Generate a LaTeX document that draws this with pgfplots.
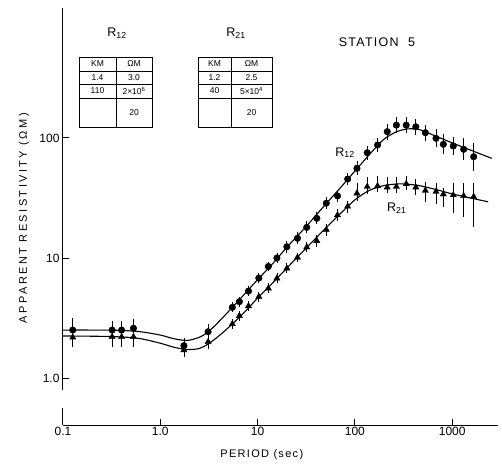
\documentclass[border=0pt]{standalone}
\usepackage{fontspec}
\setmainfont{Liberation Sans}
\usepackage{pgfplots}
\usepackage{pgfplotstable}
\pgfplotsset{compat=1.18}
\newcommand\fs[1]{\fontsize{#1}{#1}\selectfont}

% period (s), resistivity (ohm m), relative error up / down
\pgfplotstableread{
P rho ep em
0.126 2.51 0.26 0.21
0.32 2.51 0.20 0.17
0.40 2.51 0.20 0.17
0.53 2.60 0.20 0.17
1.75 1.86 0.15 0.13
3.1 2.43 0.15 0.13
5.5 3.88 0.10 0.09
6.5 4.33 0.10 0.09
8.06 5.3 0.10 0.09
10.3 6.8 0.10 0.09
12.9 8.5 0.10 0.09
15.8 10.0 0.10 0.09
20.0 12.4 0.12 0.11
25.7 14.6 0.12 0.11
32.0 18.0 0.12 0.11
40.6 21.4 0.12 0.11
50.8 28.6 0.12 0.11
66.3 32.9 0.12 0.11
84.3 45.5 0.12 0.11
105 55.9 0.14 0.125
134 75.4 0.14 0.125
171 87.4 0.14 0.125
215 112.9 0.167 0.143
267 128 0.167 0.143
337 128 0.167 0.143
423 124 0.167 0.143
530 110.7 0.167 0.143
682 99.4 0.19 0.16
811 88.6 0.21 0.17
1026 85.8 0.19 0.16
1312 80.5 0.235 0.19
1663 69.8 0.31 0.235
}\rtwelve

\pgfplotstableread{
P rho ep em
0.126 2.18 0.20 0.17
0.32 2.20 0.20 0.17
0.40 2.20 0.20 0.17
0.53 2.20 0.20 0.17
1.75 1.71 0.15 0.13
3.1 2.00 0.15 0.13
5.5 2.82 0.10 0.09
6.5 3.30 0.10 0.09
8.06 3.98 0.10 0.09
10.3 4.76 0.10 0.09
12.9 5.59 0.10 0.09
15.8 6.77 0.10 0.09
20.0 8.2 0.10 0.09
25.7 10.1 0.10 0.09
32.0 12.3 0.10 0.09
40.6 13.9 0.12 0.11
50.8 17.2 0.12 0.11
66.3 22.8 0.12 0.11
84.3 26.9 0.12 0.11
105 34.6 0.21 0.14
134 39.3 0.21 0.125
171 39.8 0.21 0.11
215 38.8 0.21 0.11
267 39.3 0.21 0.11
337 41.4 0.17 0.11
423 38.8 0.17 0.14
530 36.4 0.17 0.19
682 35.7 0.19 0.21
811 34.0 0.12 0.21
1026 33.5 0.26 0.29
1312 32.9 0.28 0.33
1663 32.4 0.31 0.44
}\rtwoone

\begin{document}
\begin{tikzpicture}
\useasboundingbox (-63pt,-39pt) rectangle (439pt,425pt);
\begin{axis}[
  scale only axis, width=435pt, height=417pt,
  xmode=log, ymode=log,
  xmin=0.1, xmax=2958, ymin=0.406, ymax=1211,
  axis lines=left,
  axis line style={line width=1pt,-},
  xtick={0.1,1,10,100,1000}, xticklabels={0.1,1.0,10,100,1000},
  ytick={1,10,100}, yticklabels={1.0,10,100},
  minor tick style={draw=none},
  tick align=inside, major tick length=6pt,
  major tick style={line width=1pt,black},
  ticklabel style={font=\fs{12}},
  xticklabel style={yshift=1pt},
  xlabel={PERIOD (sec)},
  ylabel={APPARENT RESISTIVITY (ΩM)},
  xlabel style={at={(axis description cs:0.457,-0.0576)}, anchor=north, inner sep=0pt, font=\fs{11}\addfontfeature{LetterSpace=12}},
  ylabel style={at={(axis description cs:-0.0828,0.496)}, anchor=base, inner sep=0pt, font=\fs{11}\addfontfeature{LetterSpace=22}},
  clip=false,
]
% model curves
\addplot[black, line width=1.1pt, smooth, tension=0.5] coordinates {
(0.1,2.51) (0.2,2.51) (0.35,2.50) (0.6,2.44) (1.0,2.28) (1.4,2.12) (1.9,2.06)
(2.5,2.18) (3.1,2.42) (4.0,2.95) (5.5,3.88) (7.5,5.1) (10,6.6) (14,8.8)
(20,12.3) (30,17.5) (50,28) (70,38) (100,53) (150,77) (200,98) (270,113)
(350,119) (450,118) (600,108) (1000,91) (1500,80) (2550,67.7)
};
\addplot[black, line width=1.1pt, smooth, tension=0.5] coordinates {
(0.1,2.24) (0.2,2.23) (0.35,2.21) (0.6,2.14) (1.0,1.95) (1.4,1.80) (1.9,1.73)
(2.5,1.76) (3.1,1.92) (4.1,2.28) (5.5,2.82) (7.5,3.6) (10,4.64) (14,6.1)
(20,8.25) (30,11.6) (50,17.7) (70,23.2) (100,30.5) (140,36.5) (200,40.2)
(300,41.5) (450,40.2) (700,37) (1000,34.2) (1500,31.8) (2335,29.4)
};
% observed
\addplot[black, only marks, mark=*, mark size=3.3pt,
  error bars/.cd, y dir=both, y explicit relative, error mark=none,
  error bar style={line width=0.8pt}]
  table[x=P, y=rho, y error plus=ep, y error minus=em] {\rtwelve};
\addplot[black, only marks, mark=triangle*, mark size=3.6pt,
  error bars/.cd, y dir=both, y explicit relative, error mark=none,
  error bar style={line width=0.8pt}]
  table[x=P, y=rho, y error plus=ep, y error minus=em] {\rtwoone};
\end{axis}

\begin{scope}[x=1pt, y=1pt, line width=0.9pt]
% break in the resistivity axis
\fill[white] (-3.5,17) rectangle (3.5,35);
% layer tables
\draw (16,368) rectangle (89,298);
\draw (53,368) -- (53,298);
\draw (16,354) -- (89,354) (16,341) -- (89,341) (16,327) -- (89,327);
\draw (135,368) rectangle (209,298);
\draw (168,368) -- (168,298);
\draw (135,354) -- (209,354) (135,341) -- (209,341) (135,327) -- (209,327);
\begin{scope}[every node/.style={font=\fs{8.5}, inner sep=0pt}]
\node at (34.5,361) {KM};  \node at (71,361) {ΩM};
\node at (34.5,347.5) {1.4}; \node at (71,347.5) {3.0};
\node at (34.5,334) {110};  \node at (71,334) {2×10\textsuperscript{6}};
\node at (71,312.5) {20};
\node at (151.5,361) {KM}; \node at (188.5,361) {ΩM};
\node at (151.5,347.5) {1.2}; \node at (188.5,347.5) {2.5};
\node at (151.5,334) {40};  \node at (188.5,334) {5×10\textsuperscript{4}};
\node at (188.5,312.5) {20};
\end{scope}
\node[font=\fs{12.5}, anchor=base, inner sep=0pt] at (54,388) {R\textsubscript{12}};
\node[font=\fs{12.5}, anchor=base, inner sep=0pt] at (173,388) {R\textsubscript{21}};
\node[font=\fs{12.5}\addfontfeature{LetterSpace=10}, anchor=base, inner sep=0pt] at (314,378) {STATION\ \ 5};
\node[font=\fs{12.5}, anchor=base west, inner sep=0pt] at (272,269) {R\textsubscript{12}};
\node[font=\fs{12.5}, anchor=base west, inner sep=0pt] at (323.7,213.3) {R\textsubscript{21}};
\end{scope}
\end{tikzpicture}
\end{document}
